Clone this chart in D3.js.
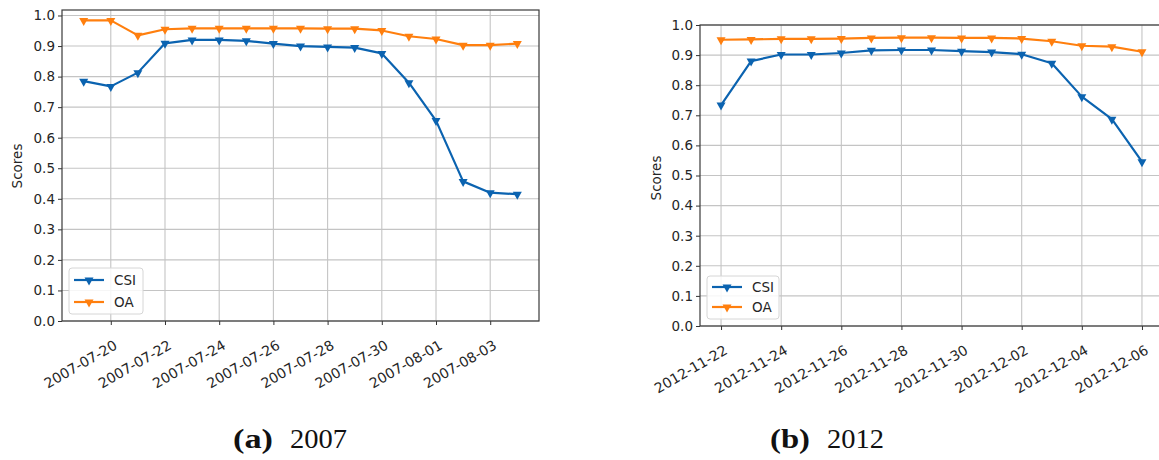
<!DOCTYPE html>
<html>
<head>
<meta charset="utf-8">
<script src="https://cdn.jsdelivr.net/npm/d3@7"></script>
<style>
  html, body { margin: 0; padding: 0; background: #fff; }
  svg { display: block; }
</style>
</head>
<body>
<svg id="chart" width="1159" height="460"></svg>
<script>
// ---------- DATA ----------
const dates2007 = ["2007-07-19","2007-07-20","2007-07-21","2007-07-22","2007-07-23","2007-07-24","2007-07-25","2007-07-26","2007-07-27","2007-07-28","2007-07-29","2007-07-30","2007-07-31","2007-08-01","2007-08-02","2007-08-03","2007-08-04"];
const csi2007 = [0.785,0.768,0.813,0.909,0.920,0.920,0.917,0.908,0.900,0.897,0.895,0.876,0.780,0.656,0.457,0.420,0.415];
const oa2007  = [0.984,0.984,0.935,0.955,0.958,0.958,0.958,0.958,0.958,0.957,0.957,0.951,0.932,0.923,0.903,0.903,0.908];
const ticks2007 = ["2007-07-20","2007-07-22","2007-07-24","2007-07-26","2007-07-28","2007-07-30","2007-08-01","2007-08-03"];

const dates2012 = ["2012-11-22","2012-11-23","2012-11-24","2012-11-25","2012-11-26","2012-11-27","2012-11-28","2012-11-29","2012-11-30","2012-12-01","2012-12-02","2012-12-03","2012-12-04","2012-12-05","2012-12-06"];
const csi2012 = [0.734,0.880,0.902,0.902,0.907,0.916,0.917,0.917,0.913,0.910,0.903,0.873,0.762,0.687,0.546];
const oa2012  = [0.951,0.952,0.954,0.954,0.955,0.957,0.958,0.958,0.957,0.957,0.955,0.946,0.931,0.928,0.911];
const ticks2012 = ["2012-11-22","2012-11-24","2012-11-26","2012-11-28","2012-11-30","2012-12-02","2012-12-04","2012-12-06"];

const yTicks = [0,0.1,0.2,0.3,0.4,0.5,0.6,0.7,0.8,0.9,1.0];
const seriesNames = ["CSI","OA"];
const seriesColors = ["#0b63b0","#ff7f0e"];

// ---------- DRAW ----------
const svg = d3.select("#chart");
const parse = d3.utcParse("%Y-%m-%d");

function panel(cfg) {
  const dts = cfg.dates.map(parse);
  const first = dts[0].getTime(), last = dts[dts.length-1].getTime();
  const pad = (last - first) * 0.05;
  const x = d3.scaleUtc().domain([new Date(first - pad), new Date(last + pad)]).range([cfg.left, cfg.right]);
  const y = d3.scaleLinear().domain([0, cfg.ymax]).range([cfg.bottom, cfg.top]);
  const g = svg.append("g");
  const tickDates = cfg.ticks.map(parse);

  // grid
  g.append("g").selectAll("line").data(yTicks).join("line")
    .attr("x1", cfg.left).attr("x2", cfg.right)
    .attr("y1", d => y(d)).attr("y2", d => y(d))
    .attr("stroke", "#c4c4c4").attr("stroke-width", 1.1);
  g.append("g").selectAll("line").data(tickDates).join("line")
    .attr("x1", d => x(d)).attr("x2", d => x(d))
    .attr("y1", cfg.top).attr("y2", cfg.bottom)
    .attr("stroke", "#c4c4c4").attr("stroke-width", 1.1);

  // axes
  const yAxis = d3.axisLeft(y).tickValues(yTicks).tickFormat(d3.format(".1f")).tickSize(4).tickPadding(3);
  const ya = g.append("g").attr("transform", `translate(${cfg.left},0)`).call(yAxis);
  ya.select(".domain").remove();
  ya.selectAll("line").attr("stroke", "#333");
  ya.selectAll("text").attr("font-family", "DejaVu Sans").attr("font-size", 13.5).attr("fill", "#262626");

  const xAxis = d3.axisBottom(x).tickValues(tickDates).tickFormat(d3.utcFormat("%Y-%m-%d")).tickSize(4);
  const xa = g.append("g").attr("transform", `translate(0,${cfg.bottom})`).call(xAxis);
  xa.select(".domain").remove();
  xa.selectAll("line").attr("stroke", "#333");
  xa.selectAll("text")
    .attr("font-family", "DejaVu Sans").attr("font-size", 14).attr("fill", "#262626")
    .attr("text-anchor", "end").attr("dy", null).attr("y", 0)
    .attr("transform", "translate(7,27) rotate(-30)");

  // frame
  g.append("rect").attr("x", cfg.left).attr("y", cfg.top)
    .attr("width", cfg.right - cfg.left).attr("height", cfg.bottom - cfg.top)
    .attr("fill", "none").attr("stroke", "#3a3a3a").attr("stroke-width", 1.2);

  // y label
  g.append("text").attr("transform", `translate(${cfg.ylabelX},${cfg.ylabelY}) rotate(-90)`)
    .attr("text-anchor", "middle").attr("font-family", "DejaVu Sans").attr("font-size", 13.5)
    .attr("fill", "#262626").text("Scores");

  // series
  const tri = "M-4.5,-3.5L4.5,-3.5L0,4.5Z";
  [cfg.csi, cfg.oa].forEach((vals, i) => {
    const pts = vals.map((v, k) => [x(dts[k]), y(v)]);
    g.append("path").attr("d", d3.line()(pts)).attr("fill", "none")
      .attr("stroke", seriesColors[i]).attr("stroke-width", 2.2).attr("stroke-linejoin", "round");
    g.append("g").selectAll("path").data(pts).join("path")
      .attr("transform", d => `translate(${d[0]},${d[1] + 1})`)
      .attr("d", tri).attr("fill", seriesColors[i]);
  });

  // legend
  const L = cfg.legend;
  g.append("rect").attr("x", L.x).attr("y", L.y).attr("width", L.w).attr("height", L.h)
    .attr("rx", 3).attr("fill", "#fff").attr("fill-opacity", 0.85)
    .attr("stroke", "#d6d6d6").attr("stroke-width", 1);
  seriesNames.forEach((name, i) => {
    const ly = L.y + L.row0 + i * L.step;
    g.append("line").attr("x1", L.x + 5).attr("x2", L.x + 35).attr("y1", ly).attr("y2", ly)
      .attr("stroke", seriesColors[i]).attr("stroke-width", 2.2);
    g.append("path").attr("transform", `translate(${L.x + 20},${ly + 1})`).attr("d", tri).attr("fill", seriesColors[i]);
    g.append("text").attr("x", L.x + 45).attr("y", ly + 5).attr("font-family", "DejaVu Sans")
      .attr("font-size", 13.5).attr("fill", "#262626").text(name);
  });

  // caption
  const cap = svg.append("text").attr("y", 448).attr("font-family", "Liberation Serif, DejaVu Serif, serif")
    .attr("font-size", 28).attr("fill", "#111");
  cap.append("tspan").attr("x", cfg.capX).attr("font-weight", "bold")
    .attr("textLength", 40).attr("lengthAdjust", "spacingAndGlyphs").text(cfg.capLabel);
  cap.append("tspan").attr("x", cfg.capX + 57)
    .attr("textLength", 57).attr("lengthAdjust", "spacingAndGlyphs").text(cfg.capYear);
}

panel({
  dates: dates2007, csi: csi2007, oa: oa2007, ticks: ticks2007,
  left: 62, right: 539, top: 10, bottom: 321, ymax: 1.018,
  ylabelX: 22, ylabelY: 166,
  legend: { x: 69, y: 268, w: 74, h: 46, row0: 12, step: 22 },
  capX: 233, capLabel: "(a)", capYear: "2007"
});
panel({
  dates: dates2012, csi: csi2012, oa: oa2012, ticks: ticks2012,
  left: 700, right: 1163, top: 25, bottom: 326, ymax: 1.0,
  ylabelX: 661, ylabelY: 178,
  legend: { x: 707, y: 276, w: 72, h: 43, row0: 11, step: 20 },
  capX: 770, capLabel: "(b)", capYear: "2012"
});
</script>
</body>
</html>
